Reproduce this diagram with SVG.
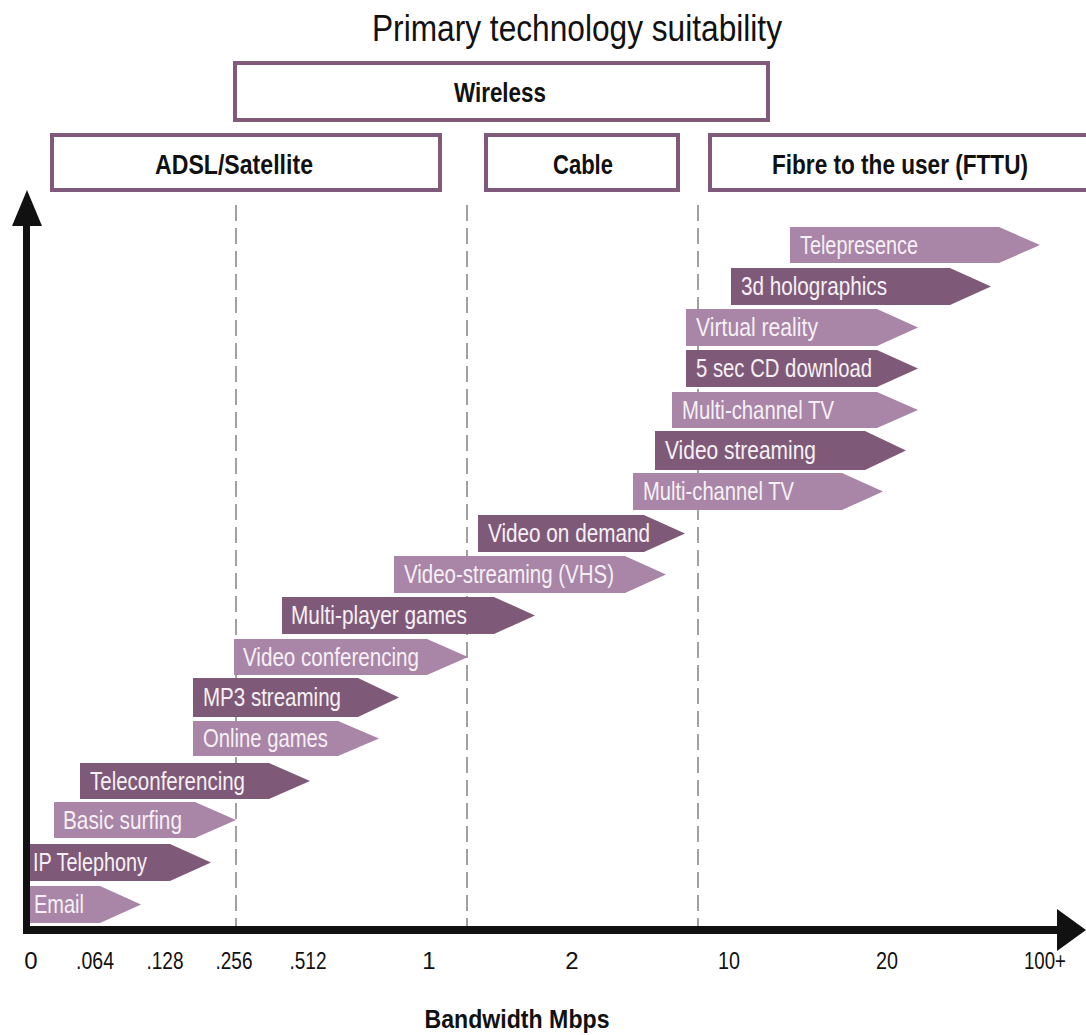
<svg xmlns="http://www.w3.org/2000/svg" width="1086" height="1035" viewBox="0 0 1086 1035">
<style>
.title{font-family:"Liberation Sans",Arial,sans-serif;font-size:36px;fill:#111}
.hdr rect{fill:#fff;stroke:#7f5a7a;stroke-width:4}
.hdr text{font-family:"Liberation Sans",Arial,sans-serif;font-weight:bold;font-size:28px;fill:#111;text-anchor:middle}
.dk path{fill:#7f5a78}
.lt path{fill:#a985a7}
.bar text{font-family:"Liberation Sans",Arial,sans-serif;font-size:25px;fill:#f6f0f5}
.tick{font-family:"Liberation Sans",Arial,sans-serif;font-size:24px;fill:#111;text-anchor:middle}
.axlabel{font-family:"Liberation Sans",Arial,sans-serif;font-weight:bold;font-size:25px;fill:#111;text-anchor:middle}
.dash{stroke:#8a8a8a;stroke-width:1.6;stroke-dasharray:16 7;fill:none}
</style>
<rect width="1086" height="1035" fill="#fff"/>
<text class="title" x="372" y="41" textLength="410" lengthAdjust="spacingAndGlyphs">Primary technology suitability</text>

<g id="hdr-wireless" class="hdr"><rect x="235" y="63" width="533" height="57"/><text x="500" y="102" textLength="92" lengthAdjust="spacingAndGlyphs">Wireless</text></g>
<g id="hdr-adsl" class="hdr"><rect x="52" y="135" width="388" height="55"/><text x="234" y="174" textLength="158" lengthAdjust="spacingAndGlyphs">ADSL/Satellite</text></g>
<g id="hdr-cable" class="hdr"><rect x="486" y="135" width="192" height="55"/><text x="583" y="174" textLength="60" lengthAdjust="spacingAndGlyphs">Cable</text></g>
<g id="hdr-fttu" class="hdr"><rect x="710" y="135" width="382" height="55"/><text x="900" y="174" textLength="256" lengthAdjust="spacingAndGlyphs">Fibre to the user (FTTU)</text></g>

<g id="dividers">
<line class="dash" x1="236" y1="205" x2="236" y2="926"/>
<line class="dash" x1="467" y1="205" x2="467" y2="926"/>
<line class="dash" x1="698" y1="205" x2="698" y2="926"/>
</g>

<g id="bar-telepresence" class="bar lt"><path d="M790 227H999L1040 245L999 263H790Z"/><text x="800" y="254" textLength="118" lengthAdjust="spacingAndGlyphs">Telepresence</text></g>
<g id="bar-holographics" class="bar dk"><path d="M731 268H950L991 286.5L950 305H731Z"/><text x="741" y="295" textLength="146" lengthAdjust="spacingAndGlyphs">3d holographics</text></g>
<g id="bar-vr" class="bar lt"><path d="M686 309H877L918 327.5L877 346H686Z"/><text x="696" y="336" textLength="122" lengthAdjust="spacingAndGlyphs">Virtual reality</text></g>
<g id="bar-cd" class="bar dk"><path d="M686 350H877L918 368.5L877 387H686Z"/><text x="696" y="377" textLength="176" lengthAdjust="spacingAndGlyphs">5 sec CD download</text></g>
<g id="bar-mctv1" class="bar lt"><path d="M672 392H877L918 410L877 428H672Z"/><text x="682" y="419" textLength="152" lengthAdjust="spacingAndGlyphs">Multi-channel TV</text></g>
<g id="bar-vstream" class="bar dk"><path d="M655 431H865L906 450.5L865 470H655Z"/><text x="665" y="459" textLength="151" lengthAdjust="spacingAndGlyphs">Video streaming</text></g>
<g id="bar-mctv2" class="bar lt"><path d="M633 473H842L883 491.5L842 510H633Z"/><text x="643" y="500" textLength="151" lengthAdjust="spacingAndGlyphs">Multi-channel TV</text></g>
<g id="bar-vod" class="bar dk"><path d="M478 515H644L685 533.5L644 552H478Z"/><text x="488" y="542" textLength="162" lengthAdjust="spacingAndGlyphs">Video on demand</text></g>
<g id="bar-vhs" class="bar lt"><path d="M394 556H625L666 574.5L625 593H394Z"/><text x="404" y="583" textLength="210" lengthAdjust="spacingAndGlyphs">Video-streaming (VHS)</text></g>
<g id="bar-mpgames" class="bar dk"><path d="M282 597H494L535 615.5L494 634H282Z"/><text x="291" y="624" textLength="176" lengthAdjust="spacingAndGlyphs">Multi-player games</text></g>
<g id="bar-vconf" class="bar lt"><path d="M234 639H427L468 657L427 675H234Z"/><text x="243" y="666" textLength="176" lengthAdjust="spacingAndGlyphs">Video conferencing</text></g>
<g id="bar-mp3" class="bar dk"><path d="M193 678H358L399 697.5L358 717H193Z"/><text x="203" y="706" textLength="138" lengthAdjust="spacingAndGlyphs">MP3 streaming</text></g>
<g id="bar-online" class="bar lt"><path d="M193 721H338L379 738.5L338 756H193Z"/><text x="203" y="747" textLength="125" lengthAdjust="spacingAndGlyphs">Online games</text></g>
<g id="bar-telecon" class="bar dk"><path d="M80 763H269L310 781L269 799H80Z"/><text x="90" y="790" textLength="155" lengthAdjust="spacingAndGlyphs">Teleconferencing</text></g>
<g id="bar-surfing" class="bar lt"><path d="M54 802H195L236 820L195 838H54Z"/><text x="63" y="829" textLength="119" lengthAdjust="spacingAndGlyphs">Basic surfing</text></g>
<g id="bar-ip" class="bar dk"><path d="M28 844H170L211 862.5L170 881H28Z"/><text x="33" y="871" textLength="114" lengthAdjust="spacingAndGlyphs">IP Telephony</text></g>
<g id="bar-email" class="bar lt"><path d="M28 886H100L141 904.5L100 923H28Z"/><text x="34" y="913" textLength="50" lengthAdjust="spacingAndGlyphs">Email</text></g>

<g id="connectors">
<line x1="26.5" y1="934" x2="26.5" y2="222" stroke="#111" stroke-width="7"/>
<path d="M12 226L27 190L42 226Z" fill="#111"/>
<line x1="23" y1="930" x2="1060" y2="930" stroke="#111" stroke-width="8"/>
<path d="M1057 909L1086 930L1057 951Z" fill="#111"/>
</g>

<g id="ticks">
<text class="tick" x="31" y="969">0</text>
<text class="tick" x="95" y="969" textLength="38" lengthAdjust="spacingAndGlyphs">.064</text>
<text class="tick" x="165" y="969" textLength="37" lengthAdjust="spacingAndGlyphs">.128</text>
<text class="tick" x="234" y="969" textLength="37" lengthAdjust="spacingAndGlyphs">.256</text>
<text class="tick" x="308" y="969" textLength="37" lengthAdjust="spacingAndGlyphs">.512</text>
<text class="tick" x="429" y="969">1</text>
<text class="tick" x="572" y="969">2</text>
<text class="tick" x="729" y="969" textLength="22" lengthAdjust="spacingAndGlyphs">10</text>
<text class="tick" x="887" y="969" textLength="22" lengthAdjust="spacingAndGlyphs">20</text>
<text class="tick" x="1045" y="969" textLength="42" lengthAdjust="spacingAndGlyphs">100+</text>
</g>
<text class="axlabel" x="517" y="1028" textLength="185" lengthAdjust="spacingAndGlyphs">Bandwidth Mbps</text>
</svg>
